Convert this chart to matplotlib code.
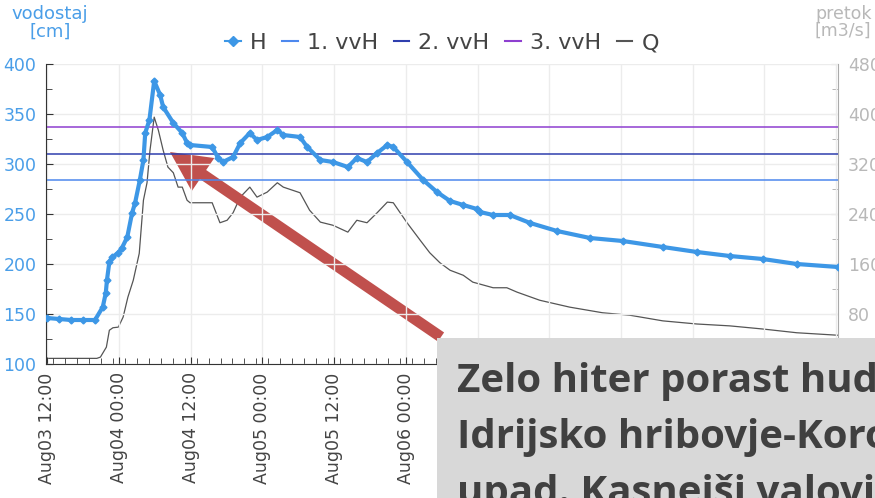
import matplotlib
matplotlib.use("Agg")
import matplotlib.pyplot as plt
import matplotlib.dates as mdates
from matplotlib.lines import Line2D
from matplotlib.patches import Rectangle, FancyArrow
from matplotlib.transforms import IdentityTransform
import numpy as np
import pandas as pd

# ---------------- data ----------------
start = pd.Timestamp("2023-08-03 12:00")

h_hours = [0, 2, 4, 6, 8, 9.3, 9.8, 10.0, 10.4, 10.9, 11.9, 12.5, 13.4, 14.2, 14.7,
           15.5, 16.1, 16.4, 17.1, 17.9, 18.9, 19.4, 21.1, 22.6, 23.4, 23.9, 27.6,
           28.6, 29.4, 31.1, 32.3, 33.9, 35.1, 36.8, 38.5, 39.5, 42.3, 43.5, 45.7,
           47.8, 50.3, 51.8, 53.5, 55.2, 56.9, 57.9, 60.2, 62.9, 65.2, 67.4, 69.6,
           71.9, 72.4, 74.6, 77.4, 80.8, 85.3, 90.8, 96.3, 103.0, 108.7, 114.2,
           119.7, 125.4, 132.3]
h_values = [146, 145, 144, 144, 144, 157, 171, 184, 202, 207, 211, 216, 227, 251, 261,
            284, 304, 331, 344, 383, 369, 357, 341, 331, 321, 319, 317,
            306, 302, 307, 321, 331, 324, 327, 334, 329, 327, 317, 304,
            302, 297, 306, 302, 311, 319, 317, 302, 284, 272, 263, 259,
            255, 252, 249, 249, 241, 233, 226, 223, 217, 212, 208,
            205, 200, 197]

q_hours = [0, 8.3, 8.9, 9.9, 10.4, 11.0, 11.9, 12.7, 13.5, 14.4, 15.4, 16.1, 16.7,
           17.2, 17.9, 18.6, 19.4, 20.2, 21.1, 21.9, 22.6, 23.4, 23.9, 27.6, 28.9,
           30.1, 31.1, 32.3, 33.9, 35.1, 36.8, 38.5, 39.5, 42.3, 43.9, 45.7, 47.8,
           50.3, 51.8, 53.5, 55.2, 56.9, 57.9, 60.2, 62.4, 64.0, 65.7, 67.4, 69.6,
           71.2, 74.6, 76.9, 78.6, 82.4, 87.4, 92.9, 97.5, 103.0, 108.7, 114.2,
           119.7, 125.4, 132.3]
q_values = [9, 9, 11, 27, 54, 58, 59, 75, 107, 134, 177, 262, 290,
            342, 395, 374, 342, 315, 306, 283, 283, 262, 258, 258, 226,
            230, 242, 267, 283, 267, 275, 290, 283, 274, 246, 227, 222,
            211, 230, 226, 242, 259, 258, 226, 198, 178, 162, 150, 142,
            131, 122, 122, 115, 102, 91, 82, 78, 69, 64, 61,
            56, 50, 46]

vvh_labels = ["1. vvH", "2. vvH", "3. vvH"]
vvh_levels = [284, 310, 337]

left_ticks = [100, 150, 200, 250, 300, 350, 400]
right_ticks = [0, 80, 160, 240, 320, 400, 480]

note_lines = ["Zelo hiter porast hudournikov",
              "Idrijsko hribovje-Koroška",
              "upad. Kasnejši valovi padavin"]

# ---------------- style ----------------
c_h = "#3d97e6"
c_vvh = ["#4d88ee", "#2f3fae", "#8e3fd0"]
c_q = "#555555"
c_left = "#4a9ee8"
c_right = "#b8b8b8"
c_text = "#444444"

W, H = 875, 498
fig = plt.figure(figsize=(W / 100, H / 100), dpi=100)
ax = fig.add_axes([46 / W, (H - 364) / H, (838 - 46) / W, 300 / H])
ax2 = ax.twinx()

t_h = [start + pd.Timedelta(hours=x) for x in h_hours]
t_q = [start + pd.Timedelta(hours=x) for x in q_hours]

# grid
ax.set_axisbelow(True)
ax.grid(True, which="major", color="#ececec", lw=1)

for lvl, col in zip(vvh_levels, c_vvh):
    ax.axhline(lvl, color=col, lw=1.1, zorder=2)

ax2.plot(t_q, q_values, color=c_q, lw=0.9, zorder=3)
ax.plot(t_h, h_values, color=c_h, lw=3.0, zorder=4, solid_capstyle="round")
ax.plot(t_h, h_values, ls="none", marker="D", ms=3.5, color=c_h, zorder=5)

ax.set_zorder(ax2.get_zorder() + 1)
ax.patch.set_visible(False)

ax.set_xlim(start - pd.Timedelta(hours=0.2), start + pd.Timedelta(hours=132.3))
ax.set_ylim(100, 400)
ax2.set_ylim(0, 480)

ax.xaxis.set_major_locator(mdates.HourLocator(byhour=[0, 12]))
ax.xaxis.set_minor_locator(mdates.HourLocator(interval=2))
ax.xaxis.set_major_formatter(mdates.DateFormatter("%b%d %H:%M"))
ax.set_yticks(left_ticks)
ax.set_yticks(np.arange(100, 401, 25), minor=True)
ax2.set_yticks(right_ticks)
ax2.set_yticks(np.arange(0, 481, 40), minor=True)

for s in ["top", "right"]:
    ax.spines[s].set_visible(False)
for s in ["top", "left", "bottom"]:
    ax2.spines[s].set_visible(False)
ax.spines["left"].set_color("#333333")
ax.spines["bottom"].set_color("#333333")
ax2.spines["right"].set_color("#aaaaaa")

ax.tick_params(axis="y", which="both", direction="in", colors="#333333",
               labelcolor=c_left, labelsize=12.5, pad=7)
ax.tick_params(axis="y", which="major", length=5)
ax.tick_params(axis="y", which="minor", length=4)
ax.tick_params(axis="x", which="both", direction="in", colors="#333333",
               labelcolor=c_text, labelsize=12.5, pad=6)
ax.tick_params(axis="x", which="major", length=5)
ax.tick_params(axis="x", which="minor", length=4)
for lbl in ax.get_xticklabels():
    lbl.set_rotation(90)
ax2.tick_params(axis="y", which="both", direction="in", colors="#aaaaaa",
                labelcolor=c_right, labelsize=12.5, pad=7)
ax2.tick_params(axis="y", which="major", length=5)
ax2.tick_params(axis="y", which="minor", length=4)

# axis titles
fig.text(50 / W, 1 - 23 / H, "vodostaj\n[cm]", color=c_left, fontsize=13,
         ha="center", va="center", linespacing=1.0)
fig.text(815 / W, 1 - 22 / H, "pretok\n[m3/s]", color=c_right, fontsize=12.5,
         ha="left", va="center", linespacing=0.9)

# legend
handles = [Line2D([], [], color=c_h, marker="D", ms=5, lw=1.5)]
handles += [Line2D([], [], color=c, lw=1.5) for c in c_vvh]
handles += [Line2D([], [], color=c_q, lw=1.5)]
leg = fig.legend(handles, ["H"] + vvh_labels + ["Q"], loc="center",
                 bbox_to_anchor=(442 / W, 1 - 43 / H), ncol=5, frameon=False,
                 fontsize=16, handlelength=0.7, handletextpad=0.4,
                 columnspacing=0.72, labelcolor=c_text, borderpad=0)

# arrow (pixel coordinates)
tail = (441, H - 337)
tip = (170, H - 152)
arr = FancyArrow(tail[0], tail[1], tip[0] - tail[0], tip[1] - tail[1],
                 width=11, head_width=40, head_length=40,
                 length_includes_head=True, color="#c0504d", lw=0,
                 transform=IdentityTransform())
fig.add_artist(arr)

# annotation box
box = Rectangle((437, 0), W - 437 + 10, H - 338, transform=IdentityTransform(),
                facecolor="#d8d8d8", edgecolor="none", zorder=10)
fig.add_artist(box)
for i, line in enumerate(note_lines):
    fig.text(457 / W, (H - 392 - 56 * i) / H, line, fontsize=29,
             fontweight="bold", family="Open Sans", color="#404040",
             ha="left", va="baseline", zorder=11)

fig.savefig("out.png", dpi=100)
